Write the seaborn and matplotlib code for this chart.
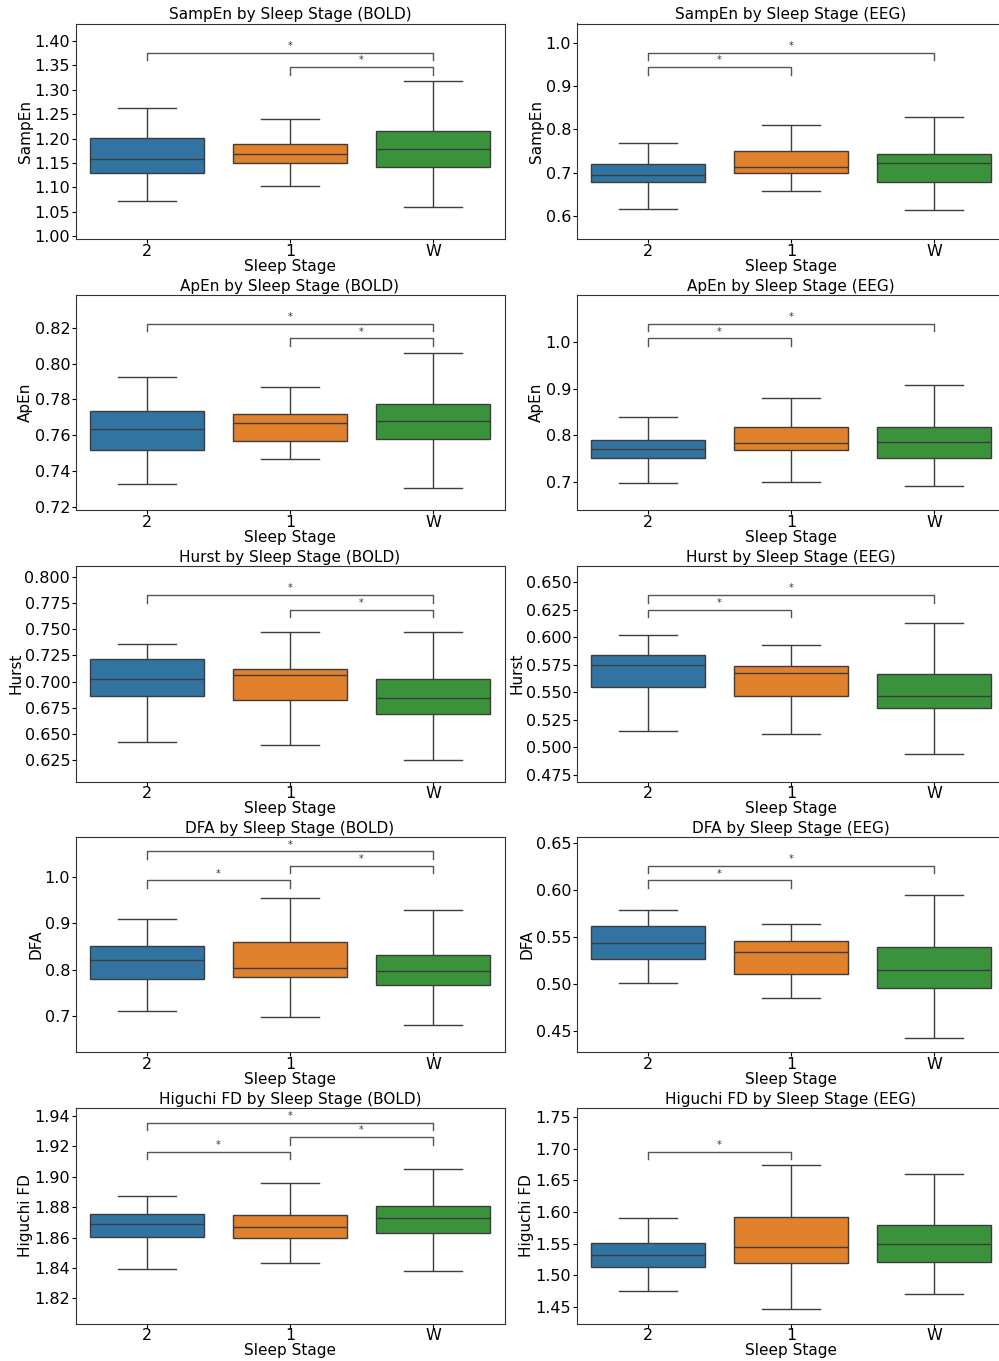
import numpy as np
import pandas as pd
import matplotlib
matplotlib.use("Agg")
import matplotlib.pyplot as plt
from matplotlib.ticker import MultipleLocator
import seaborn as sns

# Sleep stages in plotting order
stages = ["2", "1", "W"]

# Five-number summaries per stage: [whisker low, Q1, median, Q3, whisker high]
sampen_bold = [[1.072, 1.130, 1.159, 1.202, 1.263],
               [1.103, 1.151, 1.168, 1.188, 1.241],
               [1.059, 1.142, 1.178, 1.216, 1.318]]
sampen_eeg = [[0.617, 0.679, 0.694, 0.720, 0.768],
              [0.657, 0.700, 0.714, 0.750, 0.811],
              [0.614, 0.678, 0.722, 0.744, 0.829]]
apen_bold = [[0.7327, 0.7516, 0.7634, 0.7733, 0.7923],
             [0.7467, 0.7570, 0.7669, 0.7718, 0.7869],
             [0.7307, 0.7579, 0.7682, 0.7774, 0.8062]]
apen_eeg = [[0.698, 0.751, 0.771, 0.791, 0.840],
            [0.701, 0.770, 0.783, 0.819, 0.880],
            [0.692, 0.751, 0.786, 0.818, 0.907]]
hurst_bold = [[0.6425, 0.6862, 0.7021, 0.7216, 0.7362],
              [0.6397, 0.6830, 0.7063, 0.7123, 0.7474],
              [0.6253, 0.6690, 0.6849, 0.7021, 0.7474]]
hurst_eeg = [[0.5146, 0.5547, 0.5751, 0.5840, 0.6025],
             [0.5118, 0.5471, 0.5675, 0.5742, 0.5934],
             [0.4939, 0.5356, 0.5468, 0.5663, 0.6129]]
dfa_bold = [[0.710, 0.780, 0.821, 0.850, 0.909],
            [0.697, 0.784, 0.803, 0.860, 0.954],
            [0.681, 0.766, 0.796, 0.831, 0.927]]
dfa_eeg = [[0.5010, 0.5265, 0.5443, 0.5625, 0.5792],
           [0.4852, 0.5112, 0.5340, 0.5457, 0.5642],
           [0.4425, 0.4959, 0.5151, 0.5397, 0.5952]]
higuchi_bold = [[1.8396, 1.8607, 1.8691, 1.8757, 1.8874],
                [1.8436, 1.8599, 1.8671, 1.8746, 1.8957],
                [1.8378, 1.8632, 1.8731, 1.8808, 1.9050]]
higuchi_eeg = [[1.4748, 1.5134, 1.5329, 1.5519, 1.5910],
               [1.4463, 1.5192, 1.5451, 1.5921, 1.6739],
               [1.4711, 1.5208, 1.5493, 1.5799, 1.6597]]

# Significant pairwise differences (marked with *)
sig_sampen_bold = [("1", "W"), ("2", "W")]
sig_sampen_eeg = [("2", "1"), ("2", "W")]
sig_apen_bold = [("1", "W"), ("2", "W")]
sig_apen_eeg = [("2", "1"), ("2", "W")]
sig_hurst_bold = [("1", "W"), ("2", "W")]
sig_hurst_eeg = [("2", "1"), ("2", "W")]
sig_dfa_bold = [("2", "1"), ("1", "W"), ("2", "W")]
sig_dfa_eeg = [("2", "1"), ("2", "W")]
sig_higuchi_bold = [("2", "1"), ("1", "W"), ("2", "W")]
sig_higuchi_eeg = [("2", "1")]

metrics = ["SampEn", "ApEn", "Hurst", "DFA", "Higuchi FD"]
modalities = ["BOLD", "EEG"]

# (summary, significant pairs, y-limits, y tick step)
panels = [
    [(sampen_bold, sig_sampen_bold, (0.9945, 1.4356), 0.05),
     (sampen_eeg, sig_sampen_eeg, (0.5467, 1.0447), 0.1)],
    [(apen_bold, sig_apen_bold, (0.7181, 0.8385), 0.02),
     (apen_eeg, sig_apen_eeg, (0.6409, 1.0998), 0.1)],
    [(hurst_bold, sig_hurst_bold, (0.6049, 0.8102), 0.025),
     (hurst_eeg, sig_hurst_eeg, (0.4689, 0.6649), 0.025)],
    [(dfa_bold, sig_dfa_bold, (0.6223, 1.0856), 0.1),
     (dfa_eeg, sig_dfa_eeg, (0.4279, 0.6571), 0.05)],
    [(higuchi_bold, sig_higuchi_bold, (1.8035, 1.9453), 0.02),
     (higuchi_eeg, sig_higuchi_eeg, (1.4241, 1.7643), 0.05)],
]

pair_order = [("2", "1"), ("1", "W"), ("2", "W")]
palette = dict(zip(stages, sns.color_palette("tab10", 3)))

W, H = 999, 1361
fig = plt.figure(figsize=(W / 100, H / 100), dpi=100)

col_left = [75.5, 576.5]
ax_w = 429.0
ax_h = 215.5
row_top = [23.5, 294.7, 566.0, 836.7, 1108.0]

TICK_FS = 11.5
LABEL_FS = 11


def to_frame(summary):
    rows = []
    for stage, vals in zip(stages, summary):
        for v in vals:
            rows.append({"Sleep Stage": stage, "value": v})
    return pd.DataFrame(rows)


for r, metric in enumerate(metrics):
    for c, modality in enumerate(modalities):
        summary, sigs, ylim, ystep = panels[r][c]
        rect = [col_left[c] / W, 1 - (row_top[r] + ax_h) / H, ax_w / W, ax_h / H]
        ax = fig.add_axes(rect)
        df = to_frame(summary)
        sns.boxplot(data=df, x="Sleep Stage", y="value", hue="Sleep Stage",
                    order=stages, hue_order=stages, palette=palette,
                    whis=(0, 100), legend=False, ax=ax)
        ax.set_xlim(-0.5, 2.5)
        ax.set_ylim(*ylim)
        ax.yaxis.set_major_locator(MultipleLocator(ystep))
        ax.set_title(f"{metric} by Sleep Stage ({modality})", fontsize=LABEL_FS, pad=3)
        ax.set_xlabel("Sleep Stage", fontsize=LABEL_FS, labelpad=0)
        ax.set_ylabel(metric, fontsize=LABEL_FS, labelpad=1)
        ax.tick_params(axis="y", labelsize=TICK_FS, pad=0.8, length=3)
        ax.tick_params(axis="x", labelsize=TICK_FS, pad=0.5, length=3)
        for s in ax.spines.values():
            s.set_color("#333333")

        # significance brackets stacked from the lowest level upward
        trans = ax.get_xaxis_transform()
        active = [p for p in pair_order if p in sigs]
        for lvl, (a, b) in enumerate(active):
            x1, x2 = stages.index(a), stages.index(b)
            y = 0.798 + 0.0673 * lvl
            h = 0.035
            ax.plot([x1, x1, x2, x2], [y - h, y, y, y - h], transform=trans,
                    color="#555555", lw=1.0, clip_on=False)
            ax.text((x1 + x2) / 2, y + 0.008, "*", transform=trans,
                    ha="center", va="bottom", fontsize=7, color="#333333")

fig.savefig("out.png", dpi=100)
